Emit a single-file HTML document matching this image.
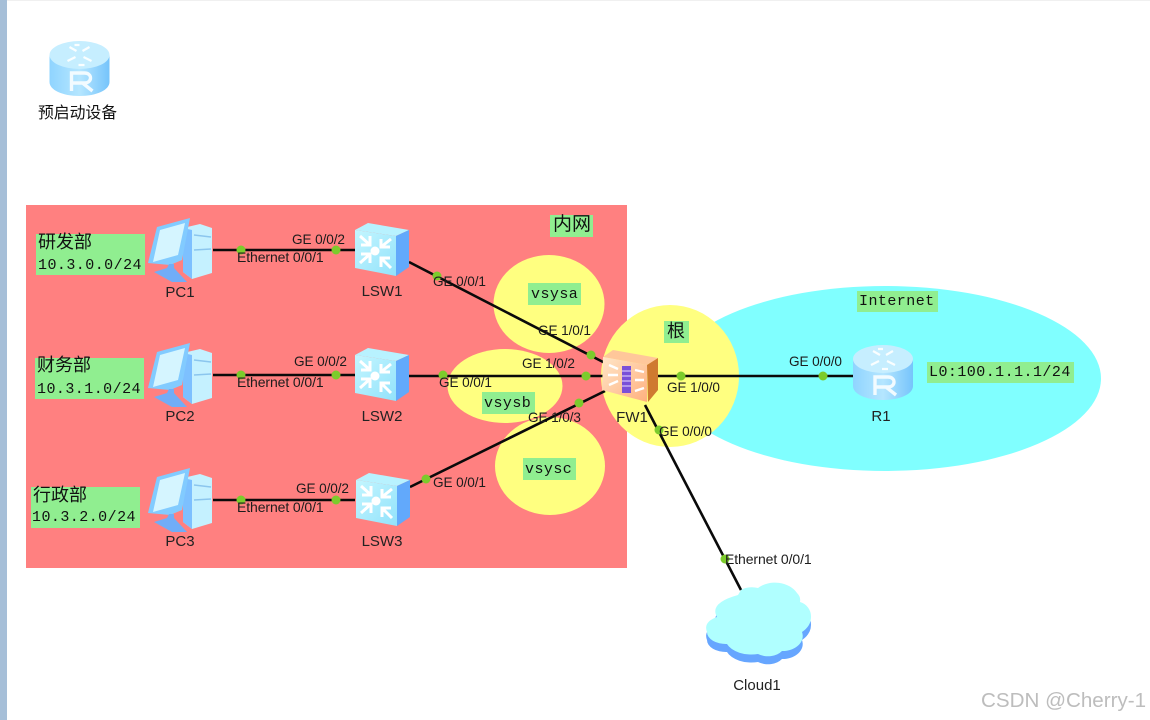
<!DOCTYPE html>
<html><head><meta charset="utf-8"><style>
html,body{margin:0;padding:0;background:#fff;width:1150px;height:720px;overflow:hidden}
svg{display:block;filter:blur(.35px)}
.t{font-family:"Liberation Sans",sans-serif;font-size:13.6px;fill:#1c1c1c;letter-spacing:-.1px}
.e{font-size:14px}
.n{font-family:"Liberation Sans",sans-serif;font-size:15px;fill:#222;text-anchor:middle}
.c{font-family:"Liberation Sans","Noto Sans CJK SC",sans-serif;font-size:18px;fill:#111}
.m{font-family:"Liberation Mono",monospace;font-size:15px;fill:#111;letter-spacing:.45px}
.l{stroke:#0a0a0a;stroke-width:2.6;fill:none}
.d{fill:#7ccb2c}
.g{fill:#90ee90}
</style></head><body>
<svg width="1150" height="720" viewBox="0 0 1150 720" xmlns="http://www.w3.org/2000/svg">
<defs>
<linearGradient id="rb" x1="0" x2="1" y1="0" y2="0"><stop offset="0" stop-color="#8fd4ff"/><stop offset=".5" stop-color="#b5e6ff"/><stop offset="1" stop-color="#76c4fb"/></linearGradient>
<linearGradient id="ft" x1="0" x2="1" y1="0" y2="1"><stop offset="0" stop-color="#ffe6c8"/><stop offset="1" stop-color="#ffb07e"/></linearGradient>
<linearGradient id="sw" x1="0" x2="1" y1="0" y2="1"><stop offset="0" stop-color="#c4f6ff"/><stop offset="1" stop-color="#92e2fb"/></linearGradient>
<g id="router">
<path d="M0 14V41C0 49 13 55 30 55S60 49 60 41V14Z" fill="url(#rb)"/>
<ellipse cx="30" cy="14" rx="30" ry="14" fill="#c6eeff"/>
<g stroke="#fff" stroke-width="2.2" fill="none" opacity=".9"><path d="M20 6l7 4M40 6l-7 4M18 20l8-4M42 20l-8-4M25 4h5M35 24h-6"/></g>
<path d="M22 50V32H35C43 32 43 42 35 42H22M33 42L43 50" stroke="#f2fbff" stroke-width="3.4" fill="none"/>
</g>
<g id="pc">
<path d="M36 10L53 6 65 10V55L45 61 36 54Z" fill="#c5f1ff"/>
<path d="M36 10L45 12V61L36 54Z" fill="#7dc0ff"/>
<path d="M47 17L64 19M47 32L64 31" stroke="#8bc6ee" stroke-width="1.5"/>
<path d="M1 45L10 9 43 0 35 42 23 47Z" fill="#82cbff"/>
<path d="M13 12L38 5 31 37 6 44Z" fill="#d5f5ff"/>
<path d="M7 54L20 50 22 46 27 46 27 50 40 64 25 64Z" fill="#71adf7"/>
</g>
<g id="switch">
<path d="M0 8L13 1 54 8 41 14Z" fill="#b8f2ff"/>
<path d="M0 8L41 14V54L0 46Z" fill="url(#sw)"/>
<path d="M41 14L54 8V45L41 54Z" fill="#62a9fb"/>
<g stroke="#fff" stroke-width="3" fill="none"><path d="M5 14L15 23M15 14V23H6M36 17L26 25M26 17V25H35M5 41L15 32M6 32H15V41M36 46L26 36M26 45V36H35"/></g>
<circle cx="20" cy="29" r="4.500" fill="#fff"/>
</g>
</defs>

<rect x="0" y="0" width="1150" height="1" fill="#f0f0f0"/>
<rect x="0" y="0" width="7" height="720" fill="#a6bfd8"/>

<ellipse cx="885" cy="378.5" rx="216" ry="92.5" fill="#80ffff"/>
<rect x="26" y="205" width="601" height="363" fill="#ff8080"/>
<ellipse cx="549" cy="304" rx="55.5" ry="49" fill="#ffff80"/>
<ellipse cx="505" cy="386" rx="57.5" ry="37" fill="#ffff80"/>
<ellipse cx="550" cy="466" rx="55" ry="49" fill="#ffff80"/>
<ellipse cx="670" cy="376" rx="69" ry="71" fill="#ffff80"/>

<rect class="g" x="36" y="234" width="109" height="41"/>
<rect class="g" x="35" y="358" width="109" height="41"/>
<rect class="g" x="31" y="487" width="109" height="41"/>
<rect class="g" x="550" y="215" width="43" height="22"/>
<rect class="g" x="528" y="283" width="53" height="22"/>
<rect class="g" x="482" y="392" width="53" height="22"/>
<rect class="g" x="523" y="458" width="53" height="22"/>
<rect class="g" x="664" y="321" width="25" height="22"/>
<rect class="g" x="857" y="291" width="81" height="21"/>
<rect class="g" x="927" y="362" width="147" height="21"/>

<path class="l" d="M213 250H355M213 375H355M213 500H355M409 262L605 363M409 376H603M410 487L605 391M658 376H853M645 405L741 590"/>
<g class="d">
<circle cx="241" cy="250" r="4.500"/><circle cx="336" cy="250" r="4.500"/>
<circle cx="241" cy="375" r="4.500"/><circle cx="336" cy="375" r="4.500"/>
<circle cx="241" cy="500" r="4.500"/><circle cx="336" cy="500" r="4.500"/>
<circle cx="437" cy="276" r="4.500"/><circle cx="591" cy="355" r="4.500"/>
<circle cx="443" cy="375" r="4.500"/><circle cx="586" cy="376" r="4.500"/>
<circle cx="426" cy="479" r="4.500"/><circle cx="579" cy="403" r="4.500"/>
<circle cx="681" cy="376" r="4.500"/><circle cx="823" cy="376" r="4.500"/>
<circle cx="659" cy="430" r="4.500"/><circle cx="725" cy="559" r="4.500"/>
</g>

<use href="#router" x="49.500" y="41"/>
<use href="#router" x="853" y="345"/>
<use href="#pc" x="147" y="218"/>
<use href="#pc" x="147" y="343"/>
<use href="#pc" x="147" y="468"/>
<use href="#switch" x="355" y="222"/>
<use href="#switch" x="355" y="347"/>
<use href="#switch" x="356" y="472"/>

<!-- FW1 -->
<path d="M603 357L613 350 658 358 647 365Z" fill="#ffc79a"/>
<path d="M603 357L647 365V402L602 390Z" fill="url(#ft)"/>
<path d="M647 365L658 358V390L648 402Z" fill="#cf7a30"/>
<rect x="622" y="366" width="9" height="27" fill="#7a50d8"/>
<g stroke="#e9dcff" stroke-width="1"><path d="M622 371H631M622 376H631M622 381H631M622 386H631"/></g>
<g stroke="#fff" stroke-width="2.400" fill="none"><path d="M609 365L618 369M608 375H618M609 385L618 381M635 370L644 372M635 380H644M635 391L644 388"/></g>

<!-- Cloud -->
<path fill="#66a6ff" transform="translate(0,8)" d="M741 590A17 12 0 0 1 758 588A25 20 0 0 1 797 593Q801 597 800 602A15 15 0 0 1 811 617Q811 626 802 632A20 15 0 0 1 782 651A17 12 0 0 1 758 654A26 16 0 0 1 727 644A19 12 0 0 1 707 632Q703 622 717 617Q709 603 738 595Z"/>
<path fill="#b0ffff" d="M741 590A17 12 0 0 1 758 588A25 20 0 0 1 797 593Q801 597 800 602A15 15 0 0 1 811 617Q811 626 802 632A20 15 0 0 1 782 651A17 12 0 0 1 758 654A26 16 0 0 1 727 644A19 12 0 0 1 707 632Q703 622 717 617Q709 603 738 595Z"/>

<g class="t">
<text x="292" y="244">GE 0/0/2</text><text class="e" x="237" y="262">Ethernet 0/0/1</text>
<text x="294" y="366">GE 0/0/2</text><text class="e" x="237" y="387">Ethernet 0/0/1</text>
<text x="296" y="493">GE 0/0/2</text><text class="e" x="237" y="512">Ethernet 0/0/1</text>
<text x="433" y="286">GE 0/0/1</text><text x="538" y="335">GE 1/0/1</text>
<text x="522" y="368">GE 1/0/2</text><text x="439" y="387">GE 0/0/1</text>
<text x="528" y="422">GE 1/0/3</text><text x="433" y="487">GE 0/0/1</text>
<text x="667" y="392">GE 1/0/0</text><text x="659" y="436">GE 0/0/0</text>
<text x="789" y="366">GE 0/0/0</text><text class="e" x="725" y="564">Ethernet 0/0/1</text>
</g>
<g class="n">
<text x="180" y="297">PC1</text><text x="382" y="296">LSW1</text>
<text x="180" y="421">PC2</text><text x="382" y="421">LSW2</text>
<text x="180" y="546">PC3</text><text x="382" y="546">LSW3</text>
<text x="632" y="422">FW1</text><text x="881" y="421">R1</text>
<text x="757" y="690">Cloud1</text>
</g>
<g class="c">
<text x="38" y="118" style="font-size:15.800px">预启动设备</text>
<text x="38" y="248">研发部</text>
<text x="37" y="371">财务部</text>
<text x="33" y="501">行政部</text>
<text x="553" y="230" style="font-size:19px">内网</text>
<text x="667" y="337">根</text>
</g>
<g class="m">
<text x="38" y="269">10.3.0.0/24</text>
<text x="37" y="393">10.3.1.0/24</text>
<text x="32" y="521">10.3.2.0/24</text>
<text x="531" y="298">vsysa</text>
<text x="484" y="407">vsysb</text>
<text x="525" y="473">vsysc</text>
<text x="859" y="305">Internet</text>
<text x="929" y="376">L0:100.1.1.1/24</text>
</g>
<text x="981" y="707" style="font-family:'Liberation Sans',sans-serif;font-size:20.6px;fill:#bdbdbd">CSDN @Cherry-1</text>
</svg>
</body></html>
